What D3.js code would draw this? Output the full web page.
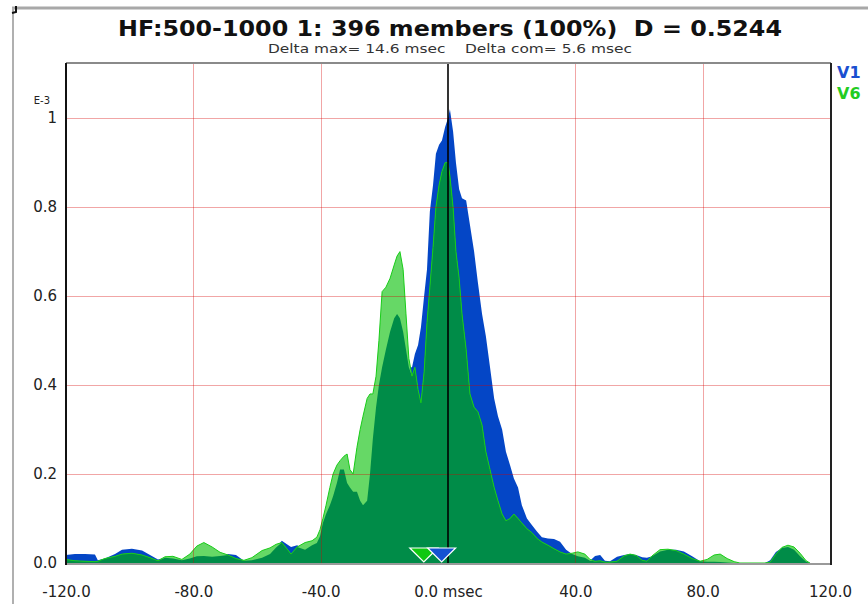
<!DOCTYPE html>
<html>
<head>
<meta charset="utf-8">
<script src="https://cdn.jsdelivr.net/npm/d3@7"></script>
<style>
  body { margin: 0; background: #fff; }
  svg { display: block; font-family: "DejaVu Sans", sans-serif; }
</style>
</head>
<body>
<svg width="868" height="604"></svg>
<script>
// time axis (msec) shared by both traces
var times = [-120.0,-117.2,-114.0,-110.9,-110.0,-107.8,-104.6,-102.4,-99.3,-96.1,-93.6,-91.1,-88.9,-86.4,-83.6,-81.1,-78.9,-76.7,-74.1,-71.6,-69.1,-66.6,-64.1,-61.6,-58.4,-55.9,-54.0,-52.2,-50.6,-49.3,-47.4,-44.9,-42.7,-41.2,
  -40.2,-39.3,-38.3,-37.1,-36.1,-34.9,-33.9,-32.7,-31.7,-30.8,-29.8,-28.6,-27.6,-26.7,-25.4,-24.5,-23.6,-22.6,-21.7,-20.7,-19.5,-18.2,-16.9,-16.0,-15.1,-14.1,-13.2,-12.3,-11.3,-10.4,-9.4,-8.5,-7.5,-6.6,-5.7,-4.7,-3.8,-2.8,-1.9,-0.9,0.0,0.6,1.6,2.5,3.5,4.4,5.7,6.9,8.2,9.4,10.7,11.9,13.2,14.5,15.7,17.0,18.2,19.5,20.7,22.0,23.2,24.8,26.4,28.0,29.5,31.4,33.3,35.2,37.1,39.0,
  40.8,43.0,44.6,46.2,47.8,49.3,50.9,53.1,55.3,57.2,59.1,61.0,62.5,64.1,66.6,69.1,71.6,74.1,76.7,79.2,81.4,83.6,85.5,87.7,89.9,91.7,99.6,101.2,103.0,104.9,106.8,108.7,110.6,112.5,113.7];

// V1 (blue) values, units of E-3
var v1 = [0.018,0.02,0.02,0.019,0.006,0.01,0.02,0.03,0.032,0.028,0.018,0.008,0.012,0.01,0.006,0.01,0.015,0.016,0.014,0.016,0.02,0.018,0.005,0.006,0.012,0.02,0.035,0.05,0.042,0.036,0.04,0.03,0.04,0.045,
  0.06,0.09,0.11,0.13,0.15,0.18,0.21,0.21,0.18,0.17,0.16,0.16,0.14,0.13,0.14,0.20,0.28,0.35,0.40,0.44,0.48,0.52,0.55,0.56,0.55,0.52,0.48,0.44,0.44,0.47,0.49,0.53,0.60,0.66,0.79,0.85,0.92,0.94,0.95,0.98,1.00,1.02,0.97,0.90,0.84,0.82,0.815,0.76,0.70,0.63,0.56,0.51,0.44,0.37,0.33,0.30,0.25,0.22,0.19,0.17,0.13,0.10,0.085,0.07,0.058,0.055,0.054,0.048,0.03,0.02,
  0.015,0.012,0.005,0.016,0.018,0.005,0.004,0.014,0.018,0.02,0.018,0.013,0.012,0.015,0.026,0.03,0.03,0.026,0.015,0.004,0.003,0.003,0.002,0.001,0,0,0,0.006,0.025,0.034,0.036,0.03,0.015,0.003,0];

// V6 (green) values, units of E-3
var v6 = [0.008,0.005,0.004,0.003,0.004,0.01,0.015,0.02,0.022,0.018,0.012,0.005,0.014,0.015,0.008,0.02,0.038,0.046,0.036,0.024,0.018,0.01,0.006,0.012,0.028,0.034,0.042,0.046,0.032,0.02,0.036,0.046,0.05,0.058,
  0.075,0.10,0.13,0.17,0.20,0.22,0.23,0.24,0.245,0.21,0.20,0.26,0.30,0.33,0.37,0.38,0.38,0.42,0.50,0.61,0.62,0.64,0.67,0.69,0.70,0.66,0.56,0.46,0.42,0.44,0.39,0.36,0.43,0.54,0.62,0.71,0.80,0.85,0.88,0.90,0.90,0.87,0.80,0.70,0.64,0.56,0.48,0.38,0.35,0.34,0.31,0.25,0.21,0.17,0.14,0.11,0.095,0.10,0.11,0.10,0.09,0.077,0.068,0.055,0.047,0.04,0.032,0.025,0.02,0.022,
  0.025,0.02,0.008,0.004,0.005,0.002,0.002,0.004,0.016,0.02,0.017,0.006,0.004,0.016,0.03,0.031,0.028,0.02,0.01,0.004,0.008,0.018,0.02,0.01,0.003,0,0,0.002,0.02,0.035,0.04,0.036,0.022,0.005,0];

// centre of mass markers
var comTimes = [-7.6, -2.0];
var comColors = ["#10c810", "#1452d2"];

var xTicks = [-120, -80, -40, 0, 40, 80, 120];
var xLabels = ["-120.0", "-80.0", "-40.0", "0.0 msec", "40.0", "80.0", "120.0"];
var yTicks = [0, 0.2, 0.4, 0.6, 0.8, 1];
var yLabels = ["0.0", "0.2", "0.4", "0.6", "0.8", "1"];

var svg = d3.select("svg");
var pLeft = 66, pRight = 831, pTop = 63, pBottom = 563;

var x = d3.scaleLinear().domain([-120, 120]).range([pLeft, pRight - 1]);
var y = d3.scaleLinear().domain([0, 1.124]).range([pBottom, pTop]);

var rows = times.map(function(t, i) { return {t: t, a: v1[i], b: v6[i]}; });

// outer window frame
svg.append("line").attr("x1", 12).attr("x2", 868).attr("y1", 8).attr("y2", 8)
  .attr("stroke", "#a8a8a8").attr("stroke-width", 3);
svg.append("line").attr("x1", 13).attr("x2", 13).attr("y1", 8).attr("y2", 604)
  .attr("stroke", "#b0b0b0").attr("stroke-width", 2);
svg.append("path").attr("d", "M12,13 L16,12 L16,6").attr("fill", "none")
  .attr("stroke", "#111").attr("stroke-width", 2);

// titles
svg.append("text").attr("x", 450).attr("y", 36).attr("text-anchor", "middle")
  .attr("font-size", 22).attr("font-weight", "bold").attr("fill", "#111")
  .attr("textLength", 664).attr("lengthAdjust", "spacingAndGlyphs")
  .style("white-space", "pre")
  .text("HF:500-1000 1: 396 members (100%)  D = 0.5244");
svg.append("text").attr("x", 450).attr("y", 53).attr("text-anchor", "middle")
  .attr("font-size", 12).attr("fill", "#333")
  .attr("textLength", 364).attr("lengthAdjust", "spacingAndGlyphs")
  .style("white-space", "pre")
  .text("Delta max= 14.6 msec    Delta com= 5.6 msec");

// areas
var areaOf = function(key) {
  return d3.area().x(function(d) { return x(d.t); }).y0(y(0))
    .y1(function(d) { return y(key(d)); });
};
svg.append("path").datum(rows).attr("fill", "#0446c6")
  .attr("d", areaOf(function(d) { return d.a; }));
svg.append("path").datum(rows).attr("fill", "#66d866")
  .attr("d", areaOf(function(d) { return d.b; }));
svg.append("path").datum(rows).attr("fill", "#008c48")
  .attr("d", areaOf(function(d) { return Math.min(d.a, d.b); }));
svg.append("path").datum(rows).attr("fill", "none").attr("stroke", "#18cc18").attr("stroke-width", 1)
  .attr("d", d3.line().x(function(d) { return x(d.t); }).y(function(d) { return y(d.b); }));

// grid
var grid = svg.append("g").attr("stroke", "#d80000").attr("stroke-opacity", 0.35).attr("stroke-width", 1);
grid.selectAll(".gx").data([-80, -40, 40, 80]).enter().append("line")
  .attr("x1", function(d) { return Math.round(x(d)) + 0.5; })
  .attr("x2", function(d) { return Math.round(x(d)) + 0.5; })
  .attr("y1", pTop).attr("y2", pBottom);
grid.selectAll(".gy").data([0.2, 0.4, 0.6, 0.8, 1]).enter().append("line")
  .attr("x1", pLeft).attr("x2", pRight)
  .attr("y1", function(d) { return Math.round(y(d)) + 0.5; })
  .attr("y2", function(d) { return Math.round(y(d)) + 0.5; });

// zero line
svg.append("line").attr("x1", x(0)).attr("x2", x(0)).attr("y1", pTop).attr("y2", pBottom)
  .attr("stroke", "#000").attr("stroke-width", 1.6);

// com markers
svg.selectAll(".com").data(comTimes).enter().append("path")
  .attr("d", function(d) {
    var cx = x(d);
    return "M" + (cx - 14) + "," + (pBottom - 15) + "L" + (cx + 14) + "," + (pBottom - 15) + "L" + cx + "," + (pBottom - 1) + "Z";
  })
  .attr("fill", function(d, i) { return comColors[i]; })
  .attr("stroke", "#fff").attr("stroke-width", 1.2);

// plot frame
svg.append("line").attr("x1", pLeft).attr("x2", pRight).attr("y1", pTop).attr("y2", pTop)
  .attr("stroke", "#8a8a8a").attr("stroke-width", 2);
svg.append("line").attr("x1", pLeft).attr("x2", pRight).attr("y1", pBottom + 1).attr("y2", pBottom + 1)
  .attr("stroke", "#9a9a9a").attr("stroke-width", 2);
svg.append("line").attr("x1", pLeft).attr("x2", pLeft).attr("y1", pTop).attr("y2", pBottom + 2)
  .attr("stroke", "#111").attr("stroke-width", 2);
svg.append("line").attr("x1", pRight).attr("x2", pRight).attr("y1", pTop).attr("y2", pBottom + 2)
  .attr("stroke", "#222").attr("stroke-width", 2);

// axes
var xAxis = d3.axisBottom(x).tickValues(xTicks).tickSize(0).tickPadding(0)
  .tickFormat(function(d, i) { return xLabels[i]; });
var gx = svg.append("g").attr("transform", "translate(0," + (pBottom + 23) + ")").call(xAxis);
gx.select(".domain").remove();
gx.selectAll("text").attr("font-size", 15).attr("fill", "#222").attr("font-family", "DejaVu Sans, sans-serif");

var yAxis = d3.axisLeft(y).tickValues(yTicks).tickSize(0).tickPadding(9)
  .tickFormat(function(d, i) { return yLabels[i]; });
var gy = svg.append("g").attr("transform", "translate(" + pLeft + ",0)").call(yAxis);
gy.select(".domain").remove();
gy.selectAll("text").attr("font-size", 15).attr("fill", "#222").attr("font-family", "DejaVu Sans, sans-serif");

svg.append("text").attr("x", 50).attr("y", 104).attr("text-anchor", "end")
  .attr("font-size", 10).attr("fill", "#222").text("E-3");

// legend
svg.append("text").attr("x", 837).attr("y", 78).attr("font-size", 16).attr("font-weight", "bold")
  .attr("fill", "#1a4fd0").text("V1");
svg.append("text").attr("x", 837).attr("y", 99).attr("font-size", 16).attr("font-weight", "bold")
  .attr("fill", "#22cc22").text("V6");
</script>
</body>
</html>
